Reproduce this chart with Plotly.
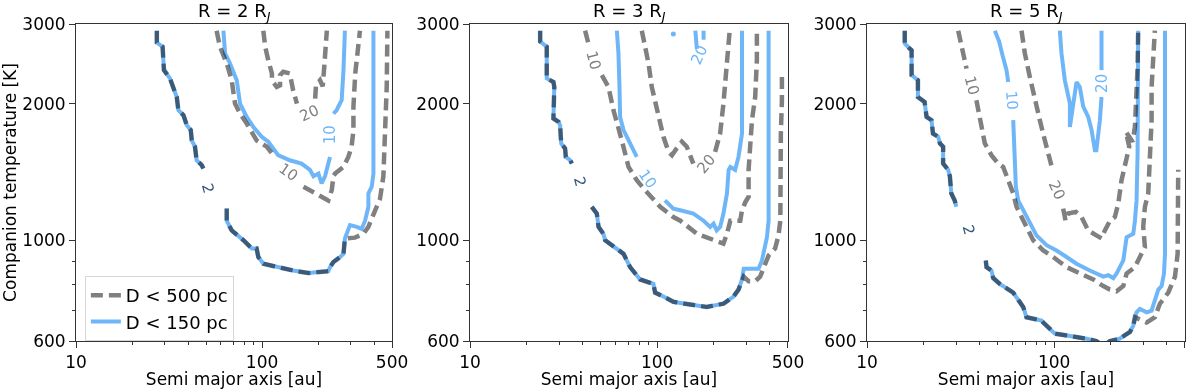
import math
import plotly.graph_objects as go

BLUE = "#6fb6f8"
GREY = "#808080"
NAVY = "#34567a"
FONT = "DejaVu Sans"

# ---------------- R = 2 R_J ----------------
p1_two_upper_x = [27.2, 27.2, 29.2, 29.7, 32.0, 33.3, 34.8, 35.5, 37.8, 39.4, 41.4, 41.9, 43.6, 44.5, 47.4, 48.4]
p1_two_upper_y = [2900, 2730, 2673, 2374, 2276, 2165, 2070, 1937, 1888, 1795, 1751, 1662, 1609, 1502, 1465, 1440]
p1_two_lower_x = [64.6, 64.6, 68.7, 74.6, 79.4, 84.5, 88.0, 93.5, 95.5, 101.6, 120, 147, 177, 205, 227, 232, 242, 263, 274, 279]
p1_two_lower_y = [1175, 1105, 1052, 1026, 1001, 976, 960, 960, 919, 888, 873, 858, 847, 852, 855, 873, 896, 919, 934, 1010]
p1_two_near_x = [285, 297, 323, 343, 358, 373, 373, 389, 397, 397]
p1_two_near_y = [1034, 1081, 1071, 1060, 1105, 1186, 1269, 1313, 1404, 2900]
p1_two_far_x = [316, 351, 373, 389, 405, 431, 449, 458, 468, 472]
p1_two_far_y = [1014, 1034, 1071, 1117, 1165, 1237, 1385, 1662, 2179, 2900]

p1_ten_near_x = [62, 63.3, 67.3, 73.1, 76.2, 82.7, 89.8, 99.6, 108, 122, 141, 163, 181, 189, 201, 209, 218, 232,
                 None, 242, 252, 257, 268, 274, 279]
p1_ten_near_y = [2900, 2584, 2455, 2254, 2003, 1872, 1779, 1692, 1650, 1541, 1502, 1477, 1431, 1385, 1404, 1335, 1385, 1528,
                 None, 1904, 1937, 1971, 2037, 2374, 2900]
p1_ten_far_x = [57.0, 59.4, 64.6, 68.7, 71.6, 76.2, 82.7, 93.5, 106, 113,
                None, 167, 181, 214, 227, 237, 242, 247, 263, 274, 291, 303, 310, 310, 317, 330, 336]
p1_ten_far_y = [2900, 2673, 2455, 2254, 2003, 1904, 1810, 1662, 1609, 1555,
                None, 1313, 1290, 1248, 1225, 1290, 1385, 1404, 1431, 1452, 1528, 1609, 1751, 1971, 2334, 2673, 2900]
p1_twenty_far_x = [101.6, 104, 108, 113, 113, 120, 125, 125, 130, 141, 147, 154,
                   None, 193, 195, 205, 212, 216, 219, 223]
p1_twenty_far_y = [2900, 2673, 2497, 2334, 2254, 2179, 2197, 2314, 2354, 2334, 2142, 2003,
                   None, 2053, 2197, 2254, 2187, 2414, 2626, 2900]

# ---------------- R = 3 R_J ----------------
p2_two_upper_x = [23.7, 23.7, 25.7, 25.7, 27.9, 28.2, 27.9, 29.7, 30.3, 30.7, 32.2, 32.5, 34.3, 35.0]
p2_two_upper_y = [2900, 2745, 2673, 2276, 2235, 2179, 1857, 1826, 1795, 1636, 1595, 1528, 1502, 1477]
p2_two_lower_x = [44.7, 47.6, 48.6, 51.6, 52.7, 59.6, 66.1, 71.7, 81.1, 95.5, 97.5, 108, 122, 141, 184, 226, 256, 272, 284]
p2_two_lower_y = [1186, 1146, 1071, 1034, 1001, 967, 934, 873, 820, 802, 767, 752, 732, 725, 713, 725, 752, 779, 820]
p2_two_near_x = [290, 314, 348, 363, 370, 386, 394, 394]
p2_two_near_y = [866, 866, 866, 903, 934, 1016, 1105, 2900]
p2_two_far_x = [290, 308, 334, 355, 370, 394, 427, 445, 455, 455, 458, 464, 464]
p2_two_far_y = [832, 813, 813, 832, 873, 926, 960, 1026, 1105, 1431, 1720, 2037, 2314]

p2_ten_near_x = [60.9, 62.1, 62.9, 63.4, 66.1, 70.3, 74.7, 77.8,
                 None, 110, 122, 133, 156, 177, 192, 200, 208, 217, 226, 236, 241, 246, 261, 272, 278, 284, 284, 284]
p2_ten_near_y = [2900, 2584, 2179, 1872, 1751, 1662, 1568, 1528,
                 None, 1225, 1175, 1165, 1146, 1105, 1071, 1089, 1052, 1071, 1146, 1269, 1431, 1452, 1431, 1528, 1636, 1720, 2179, 2900]
p2_twenty_near_x = [160, 163, None, 177, 177]
p2_twenty_near_y = [2900, 2645, None, 2770, 2900]
p2_twenty_dot_x = [122]
p2_twenty_dot_y = [2850]
p2_ten_far_x = [41.2, 42.9, None, 50.6, 54.9, 58.4, 62.1, 64.7, 70.3, 77.8, 86.3, 103.8, 122, 133, 163, 200, 226, 236,
                246, 278, 284, 296, 308, 308, 314, 321, 334, 341, 341]
p2_ten_far_y = [2900, 2718, None, 2314, 2179, 1937, 1779, 1662, 1452, 1357, 1290, 1186, 1126, 1105, 1034, 1001, 984, 1034,
                1105, 1105, 1165, 1215, 1248, 1431, 1662, 1841, 2071, 2497, 2900]
p2_twenty_far_x = [82.8, 86.3, 89.9, 93.6, 99.6, 103.8, 108, 115, 120, 127, 135.5, 144, 150, 156,
                   None, 204, 213, 217, 226, 236, 244]
p2_twenty_far_y = [2900, 2673, 2455, 2179, 1971, 1810, 1692, 1568, 1541, 1595, 1650, 1609, 1528, 1477,
                   None, 1568, 1662, 1720, 2003, 2584, 2900]

# ---------------- R = 5 R_J ----------------
p3_two_upper_x = [15.9, 15.9, 16.9, 17.3, 17.3, 18.7, 18.7, 20.3, 20.8, 22.1, 22.5, 24.0, 24.5, 25.5, 25.5, 27.1, 27.7,
                  28.2, 29.4, 30.0]
p3_two_upper_y = [2900, 2718, 2648, 2626, 2314, 2254, 2071, 2020, 1872, 1841, 1720, 1692, 1636, 1609, 1477, 1431, 1385,
                  1269, 1225, 1186]
p3_two_lower_x = [43.1, 43.5, 46.2, 47.2, 51.2, 60.4, 68.3, 71.1, 85.6, 87.4, 100.8, 116.4, 149, 168, 183, 198.5, 224,
                  239, 254, 264.6, 270]
p3_two_lower_y = [903, 873, 858, 826, 802, 767, 713, 677, 666, 659, 623, 618, 607, 600, 585, 600, 607, 618, 628, 649, 677]
p3_two_near_x = [275.5, 287, 312, 331.5, 345, 360, 375, 386, 391, 391]
p3_two_near_y = [694, 706, 694, 700, 732, 779, 793, 845, 934, 2900]
p3_two_far_x = [312, 345, 367, 407, 442, 456.6, 460]
p3_two_far_y = [659, 677, 725, 767, 832, 934, 1431]

p3_ten_near_x = [48.2, 50.8, 52.9, 55.6, 56.8, None, 60.4, 61.6, 62.4, 64.2, 68.3, 74.1, 80.4, 91.0, 102.9, 116.4, 131.6,
                 155, 183, 194.5, 207, 215.4, 234, 243.7, 264.6, 270, 275.5, 279, 281, 281]
p3_ten_near_y = [2900, 2745, 2563, 2374, 2235, None, 1841, 1580, 1313, 1225, 1165, 1089, 1026, 976, 950, 919, 888,
                 858, 832, 838, 826, 845, 903, 1016, 1034, 1105, 1225, 1555, 2100, 2900]
p3_twenty_near_x = [107.2, 109.4, 114, 121.3, 121.3, 123.8, 129, 131.6, 137, 143, 152, 158.4, 165, 168, 175.5, 179,
                    None, 179, 179]
p3_twenty_near_y = [2900, 2584, 2254, 2003, 1779, 1872, 2071, 2235, 2179, 1971, 1872, 1751, 1580, 1580, 1841, 2071,
                    None, 2374, 2900]
p3_ten_far_x = [30.7, 31.95, 34.0, None, 38.4, 40.9, 42.6, 46.2, 50.2, 53.4, 55.6, 60.4, 62.9, 68.3, 77.2, 87.4, 98.8,
                116.4, 137, 161.7, 183, 198.5, 215.4, 234, 243.7, 270, 287, 305.4, 299, 305.4, 318, 324.7, 331.5, 331.5,
                338, 345]
p3_ten_far_y = [2900, 2673, 2392, None, 2037, 1779, 1636, 1541, 1477, 1452, 1385, 1269, 1186, 1105, 1001, 950, 919,
                873, 845, 820, 793, 779, 772, 793, 845, 873, 919, 967, 1071, 1186, 1269, 1502, 1841, 2179, 2584, 2900]
p3_twenty_far_x = [66.9, 69.7, 74.1, 78.8, 83.8, 89.1, 94.8, 98.0, None, 111.7, 115, 118.8, 130.6, 140, 152, 168, 179,
                   186.6, 198.5, 211, 220, 229, 243.7, 251.8, 241.7, 262.4, 270, 275.5, 279, 281]
p3_twenty_far_y = [2900, 2584, 2293, 2037, 1841, 1662, 1502, 1431, None, 1175, 1105, 1146, 1156, 1126, 1052, 1026, 1010,
                   1052, 1105, 1126, 1205, 1357, 1502, 1609, 1735, 1650, 1779, 2037, 2414, 2900]

# inline contour labels: (x, y, text, angle)
p1_labels_far = [(138.6, 1416, "10", 35), (181, 1905, "20", -25)]
p1_labels_near = [(232, 1706, "10", -90)]
p1_label_two = (51.4, 1301)
p2_labels_far = [(45.6, 2497, "10", 75), (183, 1472, "20", -50)]
p2_labels_near = [(89, 1365, "10", 55), (168, 2560, "20", -65)]
p2_label_two = (38.7, 1346)
p3_labels_far = [(36.1, 2197, "10", 75), (102.9, 1290, "20", 65)]
p3_labels_near = [(59.1, 2037, "10", 85), (181, 2218, "20", -90)]
p3_label_two = (34.7, 1052)

TITLES = ["R = 2 R<sub><i>J</i></sub>", "R = 3 R<sub><i>J</i></sub>", "R = 5 R<sub><i>J</i></sub>"]
DOMAINS = [(0.0, 0.285), (0.3553, 0.642), (0.7133, 1.0)]
X_TICKS = [10, 100, 500]
X_MINOR = [20, 30, 40, 50, 60, 70, 80, 90, 200, 300, 400]
Y_TICKS = [600, 1000, 2000, 3000]
Y_MINOR = [700, 800, 900]


def join(*parts):
    out = []
    for i, p in enumerate(parts):
        if i:
            out.append(None)
        out += p
    return out


panels = [
    dict(far=[(join(p1_two_upper_x, p1_two_lower_x + p1_two_far_x), join(p1_two_upper_y, p1_two_lower_y + p1_two_far_y)),
              (p1_ten_far_x, p1_ten_far_y), (p1_twenty_far_x, p1_twenty_far_y)],
         near=[(join(p1_two_upper_x, p1_two_lower_x + p1_two_near_x), join(p1_two_upper_y, p1_two_lower_y + p1_two_near_y)),
               (p1_ten_near_x, p1_ten_near_y)],
         dots=[], lab_far=p1_labels_far, lab_near=p1_labels_near, two=p1_label_two),
    dict(far=[(join(p2_two_upper_x, p2_two_lower_x + p2_two_far_x), join(p2_two_upper_y, p2_two_lower_y + p2_two_far_y)),
              (p2_ten_far_x, p2_ten_far_y), (p2_twenty_far_x, p2_twenty_far_y)],
         near=[(join(p2_two_upper_x, p2_two_lower_x + p2_two_near_x), join(p2_two_upper_y, p2_two_lower_y + p2_two_near_y)),
               (p2_ten_near_x, p2_ten_near_y), (p2_twenty_near_x, p2_twenty_near_y)],
         dots=[(p2_twenty_dot_x, p2_twenty_dot_y)], lab_far=p2_labels_far, lab_near=p2_labels_near, two=p2_label_two),
    dict(far=[(join(p3_two_upper_x, p3_two_lower_x + p3_two_far_x), join(p3_two_upper_y, p3_two_lower_y + p3_two_far_y)),
              (p3_ten_far_x, p3_ten_far_y), (p3_twenty_far_x, p3_twenty_far_y)],
         near=[(join(p3_two_upper_x, p3_two_lower_x + p3_two_near_x), join(p3_two_upper_y, p3_two_lower_y + p3_two_near_y)),
               (p3_ten_near_x, p3_ten_near_y), (p3_twenty_near_x, p3_twenty_near_y)],
         dots=[], lab_far=p3_labels_far, lab_near=p3_labels_near, two=p3_label_two),
]

fig = go.Figure()
annotations = []
axis_style = dict(showline=True, linecolor="#333333", linewidth=1, mirror=True, ticks="outside", ticklen=6,
                  tickwidth=1, tickcolor="#333333", showgrid=False, zeroline=False,
                  tickfont=dict(family=FONT, size=17, color="black"))

for i, pan in enumerate(panels, start=1):
    xa, ya = ("x", "y") if i == 1 else (f"x{i}", f"y{i}")
    for k, (xs, ys) in enumerate(pan["near"]):
        fig.add_trace(go.Scatter(x=xs, y=ys, mode="lines", xaxis=xa, yaxis=ya, name="D < 150 pc",
                                 line=dict(color=BLUE, width=4), legendgroup="near", legendrank=2,
                                 showlegend=(i == 1 and k == 0), hoverinfo="skip"))
    for xs, ys in pan["dots"]:
        fig.add_trace(go.Scatter(x=xs, y=ys, mode="markers", xaxis=xa, yaxis=ya, showlegend=False,
                                 marker=dict(color=BLUE, size=5), hoverinfo="skip"))
    for k, (xs, ys) in enumerate(pan["far"]):
        fig.add_trace(go.Scatter(x=xs, y=ys, mode="lines", xaxis=xa, yaxis=ya, name="D < 500 pc",
                                 line=dict(color=GREY, width=4.5, dash="12px,6px"), legendgroup="far", legendrank=1,
                                 showlegend=(i == 1 and k == 0), hoverinfo="skip"))

    labels = [(l, GREY) for l in pan["lab_far"]] + [(l, BLUE) for l in pan["lab_near"]]
    labels.append(((pan["two"][0], pan["two"][1], "2", 75), NAVY))
    for (lx, ly, txt, ang), col in labels:
        annotations.append(dict(x=math.log10(lx), y=math.log10(ly), xref=xa, yref=ya, text=txt, showarrow=False,
                                textangle=ang, font=dict(family=FONT, size=15, color=col)))

    d0, d1 = DOMAINS[i - 1]
    annotations.append(dict(x=(d0 + d1) / 2, y=1, xref="paper", yref="paper", text=TITLES[i - 1], showarrow=False,
                            xanchor="center", yanchor="bottom", yshift=-2,
                            font=dict(family=FONT, size=18, color="black")))

    ytitle = dict(text="Companion temperature [K]", font=dict(family=FONT, size=17, color="black"), standoff=4) \
        if i == 1 else None
    fig.update_layout(**{
        ("xaxis" if i == 1 else f"xaxis{i}"): dict(
            axis_style, type="log", range=[1, math.log10(500)], domain=[d0, d1], anchor=ya,
            tickvals=X_TICKS, ticktext=[str(v) for v in X_TICKS],
            minor=dict(tickvals=X_MINOR, ticks="outside", ticklen=3, tickcolor="#333333"),
            title=dict(text="Semi major axis [au]", font=dict(family=FONT, size=17, color="black"), standoff=7)),
        ("yaxis" if i == 1 else f"yaxis{i}"): dict(
            axis_style, type="log", range=[math.log10(600), math.log10(3000)], domain=[0, 1], anchor=xa,
            tickvals=Y_TICKS, ticktext=[str(v) for v in Y_TICKS],
            minor=dict(tickvals=Y_MINOR, ticks="outside", ticklen=3, tickcolor="#333333"),
            title=ytitle),
    })

fig.update_layout(
    template="none",
    width=1200, height=389,
    margin=dict(l=76, r=15, t=24, b=48),
    paper_bgcolor="white", plot_bgcolor="white",
    font=dict(family=FONT, size=17, color="black"),
    annotations=annotations,
    legend=dict(x=0.008, y=0.205, xanchor="left", yanchor="top", bgcolor="rgba(255,255,255,0.85)",
                bordercolor="#d6d6d6", borderwidth=1, font=dict(family=FONT, size=18), tracegroupgap=0),
)

# page has no margin; grey dashes drawn over the blue lines darken them, as in the original figure
BLEND = ("document.body.style.margin = '0';"
         "document.querySelectorAll('.scatterlayer path.js-line')"
         ".forEach(function (p) { p.style.mixBlendMode = 'multiply'; });")
fig.write_html("out.html", post_script=BLEND, config={"displayModeBar": False})
